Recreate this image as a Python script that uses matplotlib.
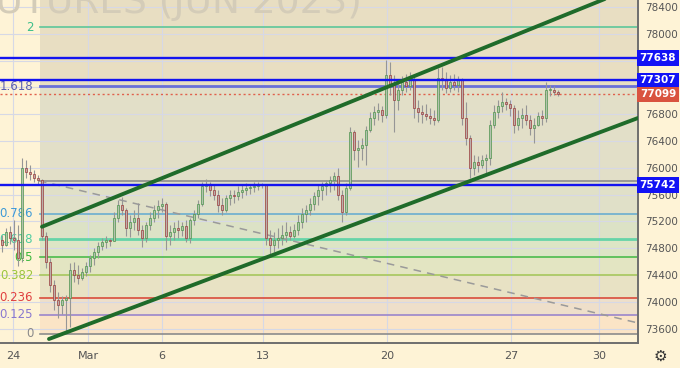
import numpy as np
import matplotlib.pyplot as plt

plt.rcParams['font.family'] = ['DejaVu Sans']

# hourly-ish bars, RTS futures (Jun 2023)
first_open = 74920
close = [74850, 75040, 74950, 74920, 74650, 76000, 75940, 75910, 75850, 75820,
         74980, 74590, 74250, 74030, 73950, 74030, 74060, 74470, 74400, 74350,
         74440, 74530, 74650, 74740, 74830, 74890, 74920, 74910, 75250, 75440,
         75370, 75100, 75190, 75250, 75070, 74950, 75150, 75250, 75370, 75430,
         75460, 74980, 75040, 75100, 75070, 75130, 74950, 75220, 75310, 75460,
         75730, 75760, 75670, 75590, 75440, 75370, 75550, 75590, 75580, 75640,
         75670, 75700, 75710, 75730, 75740, 75740, 74950, 74850, 74920, 74950,
         75000, 75040, 74980, 75070, 75190, 75310, 75370, 75460, 75580, 75670,
         75730, 75770, 75820, 75880, 75590, 75340, 75700, 76530, 76270, 76300,
         76340, 76560, 76740, 76830, 76860, 76790, 77390, 77240, 77010, 77160,
         77280, 77220, 77310, 76890, 76830, 76800, 76770, 76740, 76710, 77340,
         77310, 77190, 77280, 77240, 77310, 76740, 76440, 76000, 76090, 76040,
         76120, 76150, 76640, 76830, 76920, 76980, 76950, 76890, 76640, 76740,
         76790, 76710, 76590, 76640, 76770, 76740, 77160, 77160, 77130, 77099]
high = [75000, 75100, 75130, 75220, 75150, 76150, 76120, 76040, 75970, 75890,
        75830, 75040, 74650, 74330, 74150, 74090, 74100, 74580, 74590, 74550,
        74500, 74590, 74700, 74800, 74890, 74950, 74980, 74950, 75340, 75520,
        75560, 75400, 75300, 75370, 75470, 75150, 75190, 75340, 75440, 75520,
        75550, 75490, 75150, 75190, 75220, 75190, 75220, 75250, 75370, 75520,
        75790, 75830, 75790, 75760, 75670, 75550, 75590, 75670, 75670, 75730,
        75760, 75770, 75760, 75790, 75790, 75770, 75760, 75070, 75040, 75100,
        75150, 75190, 75130, 75160, 75300, 75400, 75440, 75550, 75640, 75740,
        75790, 75820, 75880, 75940, 76000, 75670, 75770, 76610, 76560, 76420,
        76440, 76620, 76830, 76920, 76970, 76920, 77610, 77580, 77390, 77310,
        77370, 77400, 77430, 77400, 77010, 76940, 76950, 76890, 76860, 77490,
        77500, 77430, 77390, 77400, 77370, 77340, 76980, 76490, 76190, 76180,
        76190, 76210, 76710, 76940, 77010, 77130, 77040, 77010, 76940, 76860,
        76890, 76940, 76790, 76740, 76830, 76860, 77280, 77240, 77220, 77160]
low = [74740, 74830, 74860, 74770, 74530, 74590, 75850, 75820, 75790, 75760,
       74920, 74500, 74150, 73880, 73760, 73820, 73530, 73620, 74300, 74270,
       74330, 74380, 74440, 74550, 74650, 74770, 74800, 74830, 74920, 75190,
       75300, 74980, 74970, 75070, 75000, 74820, 74890, 75070, 75190, 75250,
       75340, 74770, 74850, 74920, 74950, 74980, 74890, 74880, 75150, 75250,
       75430, 75640, 75580, 75520, 75340, 75300, 75340, 75440, 75470, 75520,
       75550, 75590, 75610, 75640, 75670, 75700, 74850, 74700, 74740, 74800,
       74850, 74890, 74920, 74950, 75000, 75100, 75190, 75300, 75370, 75440,
       75520, 75590, 75640, 75670, 75520, 75190, 75300, 75670, 76120, 76010,
       76120, 76040, 76530, 76640, 76710, 76680, 76740, 77090, 76530, 76860,
       77090, 77130, 77160, 76740, 76680, 76670, 76710, 76650, 76640, 76680,
       77160, 77120, 77130, 77160, 77130, 76640, 76340, 75850, 75890, 75940,
       76000, 75920, 76040, 76590, 76740, 76830, 76860, 76770, 76520, 76560,
       76590, 76640, 76490, 76370, 76620, 76640, 76680, 77070, 77090, 77070]

# 77200 / 77600 sit under the price tags, so they are not labelled
price_ticks = [73600, 74000, 74400, 74800, 75200, 75600, 76000, 76400, 76800, 78000, 78400]
grid_prices = [73600, 74000, 74400, 74800, 75200, 75600, 76000, 76400, 76800, 77200, 77600, 78000, 78400]
date_pos = [2.75, 21.5, 40, 65.25, 96.25, 127.25, 149.25]
date_labels = ['24', 'Mar', '6', '13', '20', '27', '30']

fib_start = 9.5
fib_low, fib_high = 73520, 75807
fib_levels = [0, 0.125, 0.236, 0.382, 0.5, 0.618, 0.786, 1, 1.618, 2]
fib_names = ['0', '0.125', '0.236', '0.382', '0.5', '0.618', '0.786', '', '1.618', '2']
fib_line_colors = ['#8c8c8c', '#9a86cc', '#d94c3c', '#a8c85a', '#4cbb4c', '#66d4a8', '#6aaed0', '#8c8c8c', '#6a70d8', '#5cc79a']
fib_text_colors = ['#8a8a8a', '#8a78d0', '#e04040', '#9bc53d', '#3cb83c', '#4ccca0', '#3d9ad6', '#8a8a8a', '#5a5fb0', '#3dbf8a']
fib_band_colors = ['#fbe4c6', '#eedfca', '#e8e2c4', '#e3e5c2', '#dde5c5', '#dce2c6', '#e0e0c8', '#e2dfc8', '#e8dec2', '#e8dec2']

hlines = [77638, 77307, 75742]
last_price = 77099

upper_channel = ([10, 159], [75120, 78720])
lower_channel = ([11.75, 159], [73445, 76743])
trend_dash = ([9.25, 159], [75807, 73684])

x0, x1 = -0.5, 159.0
y0, y1 = 73385, 78504

bg = '#fef3d6'
fig = plt.figure(figsize=(6.8, 3.68), dpi=100, facecolor=bg)
ax = fig.add_axes([0, 25 / 368, 638 / 680, 343 / 368])
ax.set_facecolor(bg)
ax.set_xlim(x0, x1)
ax.set_ylim(y0, y1)

# fib bands + levels
lv = [fib_low + r * (fib_high - fib_low) for r in fib_levels] + [y1 + 100]
for k in range(len(fib_levels)):
    ax.fill_between([fib_start, x1], lv[k], lv[k + 1], color=fib_band_colors[k], lw=0, zorder=0.2)
for k, r in enumerate(fib_levels):
    lw = 2.0 if r in (0.618, 1.618) else 1.2
    ax.plot([fib_start, x1], [lv[k], lv[k]], color=fib_line_colors[k], lw=lw, zorder=1)
    if fib_names[k]:
        ax.text(7.8, lv[k], fib_names[k], color=fib_text_colors[k], fontsize=8.5,
                ha='right', va='center', zorder=2)

# grid
for p in grid_prices:
    ax.axhline(p, color='#d6d8e6', lw=0.8, zorder=0.5)
for d in date_pos:
    ax.axvline(d, color='#d6d8e6', lw=0.8, zorder=0.5)

# watermark, mostly cut off by the top edge
ax.text(362 / 638, 1 - 13 / 343, 'FUTURES (JUN 2023)', transform=ax.transAxes,
        fontsize=27, color='#d4ccb8', ha='right', va='baseline', zorder=0.6)

ax.plot(*trend_dash, color='#9a9a9a', lw=1.1, ls=(0, (5, 4)), zorder=1.2)
ax.axhline(last_price, color='#e0604c', lw=1.0, ls=(0, (1.5, 2)), zorder=1.3)

# candles
o = np.array([first_open] + close[:-1], dtype=float)
c = np.array(close, dtype=float)
h = np.maximum(np.array(high, dtype=float), np.maximum(o, c))
l = np.minimum(np.array(low, dtype=float), np.minimum(o, c))
xs = np.arange(len(c))
up = c >= o
ax.vlines(xs, l, h, color='#969696', lw=0.8, zorder=3)
body = np.maximum(np.abs(c - o), 12)
ax.bar(xs[up], body[up], bottom=np.minimum(o, c)[up], width=0.5,
       color='#b3c2ae', edgecolor='#4d944d', lw=0.5, zorder=3.5)
ax.bar(xs[~up], body[~up], bottom=np.minimum(o, c)[~up], width=0.5,
       color='#bcaeaa', edgecolor='#9a3b3b', lw=0.5, zorder=3.5)

for p in hlines:
    ax.axhline(p, color='#1414f0', lw=1.7, zorder=4)

ax.plot(*upper_channel, color='#1f6b2a', lw=2.8, solid_capstyle='round', zorder=5)
ax.plot(*lower_channel, color='#1f6b2a', lw=2.8, solid_capstyle='round', zorder=5)

# axes styling
for s in ['top', 'left']:
    ax.spines[s].set_visible(False)
for s in ['right', 'bottom']:
    ax.spines[s].set_color('#6e6e6e')
    ax.spines[s].set_linewidth(1.4)
ax.yaxis.tick_right()
ax.set_yticks(price_ticks)
ax.set_yticklabels([str(p) for p in price_ticks])
ax.set_xticks(date_pos)
ax.set_xticklabels(date_labels)
ax.tick_params(axis='y', length=0, pad=5, labelsize=7.5, labelcolor='#555555')
ax.tick_params(axis='x', length=0, pad=6, labelsize=8, labelcolor='#555555')

tag_x = 658 / 638
for p in hlines:
    ax.text(tag_x, p, str(p), transform=ax.get_yaxis_transform(), ha='center', va='center',
            color='white', fontsize=7.5, fontweight='bold', clip_on=False, zorder=10,
            bbox=dict(boxstyle='square,pad=0.25', fc='#1212f5', ec='none'))
ax.text(tag_x, last_price, str(last_price), transform=ax.get_yaxis_transform(), ha='center',
        va='center', color='white', fontsize=7.5, fontweight='bold', clip_on=False, zorder=10,
        bbox=dict(boxstyle='square,pad=0.25', fc='#d9533f', ec='none'))

fig.text(660 / 680, 12 / 368, '\u2699', ha='center', va='center', fontsize=11, color='#333333')

fig.savefig('out.png', dpi=100, facecolor=bg)
